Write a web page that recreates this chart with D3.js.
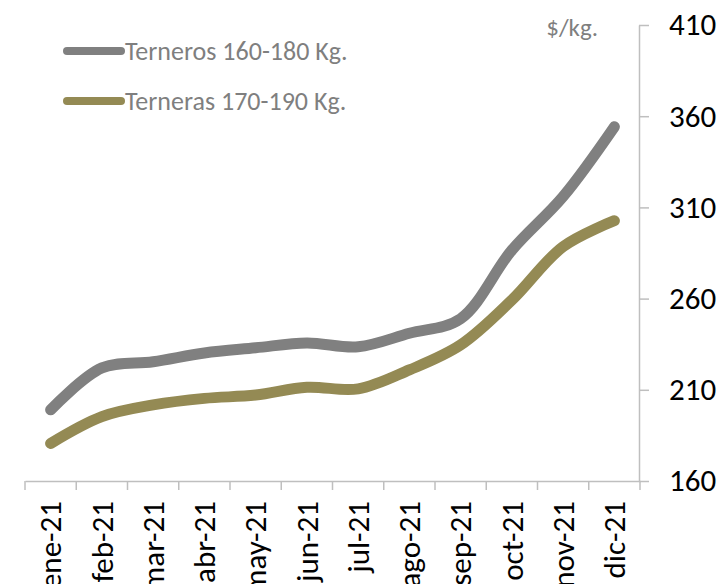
<!DOCTYPE html>
<html>
    <head>
        <meta charset="utf-8">
        <script src="https://d3js.org/d3.v7.min.js"></script>
        <style>
            body { margin: 0; background: #fff; }
            text { font-family: Carlito, Calibri, "Liberation Sans Narrow", "Open Sans", sans-serif; }
        </style>
    </head>
    <body>
        <div id="chart"></div>
        <script>
            // months and prices ($/kg.)
            var months = ["ene-21", "feb-21", "mar-21", "abr-21", "may-21", "jun-21",
                          "jul-21", "ago-21", "sep-21", "oct-21", "nov-21", "dic-21"];
            var terneros = [199, 222, 225.4, 230.2, 233, 235.7, 233.6, 241, 249, 286.6, 316, 354.2];
            var terneras = [180.6, 195.3, 201.7, 205.3, 207.1, 211.4, 210.5, 220.9, 234.6, 259.2, 288.5, 302.7];
            var yTicks = [160, 210, 260, 310, 360, 410];
            var seriesNames = ["Terneros 160-180 Kg.", "Terneras 170-190 Kg."];
            var seriesColors = ["#808080", "#948a54"];

            var w = 721, h = 584;
            var svg = d3.select('#chart').append('svg').attr('width', w).attr('height', h);

            var x = d3.scaleBand().domain(months).range([25, 640]);
            var y = d3.scaleLinear().domain([160, 410]).range([481, 25]);

            // x axis: labels at band centers, ticks at band edges
            var xAxis = svg.append('g').attr('transform', 'translate(0,481)')
                .call(d3.axisBottom(x).tickSize(0).tickPadding(0));
            xAxis.select('.domain').attr('stroke', '#bfbfbf').attr('stroke-width', 1.5);
            xAxis.selectAll('text')
                .attr('transform', 'rotate(-90)')
                .attr('x', -20).attr('y', 0).attr('dy', '0.35em')
                .style('text-anchor', 'end')
                .style('font-size', '31px').attr('fill', '#000');

            var edges = months.map(function(m) { return x(m); }).concat([x.range()[1]]);
            svg.selectAll('line.xtick').data(edges).enter().append('line')
                .attr('class', 'xtick')
                .attr('x1', function(d) { return d; }).attr('x2', function(d) { return d; })
                .attr('y1', 481).attr('y2', 490)
                .attr('stroke', '#bfbfbf').attr('stroke-width', 1.5);

            // y axis on the right
            var yAxis = svg.append('g').attr('transform', 'translate(639,0)')
                .call(d3.axisRight(y).tickValues(yTicks).tickSize(10).tickSizeOuter(0).tickPadding(20));
            yAxis.select('.domain').attr('stroke', '#bfbfbf').attr('stroke-width', 1.5);
            yAxis.selectAll('.tick line').attr('stroke', '#bfbfbf').attr('stroke-width', 1.5);
            yAxis.selectAll('text').style('font-size', '31px').attr('fill', '#000');

            svg.append('text').attr('x', 598).attr('y', 36)
                .style('text-anchor', 'end')
                .text('$/kg.').style('font-size', '25px').attr('fill', '#7f7f7f');

            // lines
            var line = d3.line()
                .x(function(d, i) { return x(months[i]) + x.bandwidth() / 2; })
                .y(function(d) { return y(d); })
                .curve(d3.curveCatmullRom.alpha(0.5));

            [terneros, terneras].forEach(function(s, i) {
                svg.append('path').datum(s)
                    .attr('d', line)
                    .attr('fill', 'none')
                    .attr('stroke', seriesColors[i])
                    .attr('stroke-width', 11)
                    .attr('stroke-linecap', 'round')
                    .attr('stroke-linejoin', 'round');
            });

            // legend
            var legend = svg.selectAll('g.legend').data(seriesNames).enter().append('g')
                .attr('class', 'legend')
                .attr('transform', function(d, i) { return 'translate(0,' + (51 + i * 50) + ')'; });
            legend.append('line')
                .attr('x1', 67).attr('x2', 121).attr('y1', 0).attr('y2', 0)
                .attr('stroke', function(d, i) { return seriesColors[i]; })
                .attr('stroke-width', 8).attr('stroke-linecap', 'round');
            legend.append('text')
                .attr('x', 125).attr('y', 0).attr('dy', '0.35em')
                .text(function(d) { return d; })
                .style('font-size', '26px').attr('fill', '#7f7f7f');
        </script>
    </body>
</html>
